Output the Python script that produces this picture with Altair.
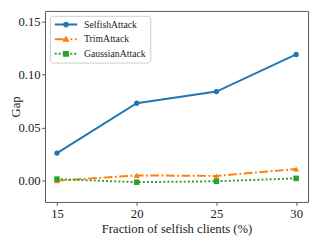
import altair as alt
import pandas as pd

fractions = [15, 20, 25, 30]
selfish_attack = [0.026, 0.073, 0.084, 0.119]
trim_attack = [0.0, 0.005, 0.0045, 0.011]
gaussian_attack = [0.0015, -0.0014, -0.0005, 0.0022]
series_names = ["SelfishAttack", "TrimAttack", "GaussianAttack"]
series_colors = ["#1f77b4", "#ff7f0e", "#2ca02c"]
x_ticks = [15, 20, 25, 30]
y_ticks = [0.0, 0.05, 0.10, 0.15]

rows = []
for name, vals in zip(series_names, [selfish_attack, trim_attack, gaussian_attack]):
    for f, v in zip(fractions, vals):
        rows.append({"fraction": f, "gap": v, "series": name})
df = pd.DataFrame(rows)

FONT = "Liberation Serif"
TXT = "#222222"

x_enc = alt.X(
    "fraction:Q",
    scale=alt.Scale(domain=[14.25, 30.75], nice=False, zero=False),
    axis=alt.Axis(values=x_ticks, format="d", title="Fraction of selfish clients (%)",
                  labelPadding=2, titlePadding=3),
)
y_enc = alt.Y(
    "gap:Q",
    scale=alt.Scale(domain=[-0.02, 0.16], nice=False, zero=False),
    axis=alt.Axis(values=y_ticks, format=".2f", title="Gap", labelPadding=1.5, titlePadding=-5),
)

# legend glyph paths (unit = 4px, line from -1 to 4.75, marker centred at 1.875)
def u(px):
    return round(-1 + px / 4.0, 3)

def seg(a, b, h=0.25):
    return f"M{u(a)},{-h}H{u(b)}V{h}H{u(a)}Z"

circle = "M1.125,0A0.75,0.75 0 1,1 2.625,0A0.75,0.75 0 1,1 1.125,0Z"
triangle = "M1.875,-0.95L2.8,0.65L0.95,0.65Z"
square = "M1.125,-0.75H2.625V0.75H1.125Z"
path_selfish = seg(0, 23) + circle
path_trim = seg(0, 9) + seg(11.5, 13.5) + seg(16, 18) + seg(20.5, 22.5) + triangle
path_gauss = "".join(seg(a, a + 2) for a in [0, 4, 8, 12, 16, 20]) + square
legend_paths = [path_selfish, path_trim, path_gauss]

styles = [
    ("SelfishAttack", "#1f77b4", None, "circle", 30),
    ("TrimAttack", "#ff7f0e", [9, 2.5, 2, 2.5], "triangle-up", 36),
    ("GaussianAttack", "#2ca02c", [2, 2.2], "square", 32),
]

layers = []
for name, color, dash, shape, size in styles:
    base = alt.Chart(df).transform_filter(alt.datum.series == name)
    line_kwargs = dict(color=color, strokeWidth=2, strokeCap="butt")
    if dash:
        line_kwargs["strokeDash"] = dash
    layers.append(base.mark_line(**line_kwargs).encode(x=x_enc, y=y_enc))
    layers.append(base.mark_point(filled=True, shape=shape, size=size, color=color, opacity=1)
                  .encode(x=x_enc, y=y_enc))

leg = alt.Legend(
    title=None, orient="top-left", offset=5, fillColor="white", strokeColor="#cccccc",
    cornerRadius=3, padding=4, symbolSize=64, symbolOpacity=1, symbolStrokeWidth=0,
    labelFont=FONT, labelFontSize=10, labelColor=TXT, labelOffset=21, rowPadding=5,
)
legend_layer = alt.Chart(df).mark_point(filled=True, opacity=0).encode(
    x=x_enc, y=y_enc,
    color=alt.Color("series:N", sort=series_names,
                    scale=alt.Scale(domain=series_names, range=series_colors), legend=leg),
    shape=alt.Shape("series:N", sort=series_names,
                    scale=alt.Scale(domain=series_names, range=legend_paths), legend=leg),
)
layers.append(legend_layer)

chart = (
    alt.layer(*layers)
    .properties(width=270, height=196,
                autosize=alt.AutoSizeParams(type="none"),
                padding={"left": 38, "top": 0, "right": 4, "bottom": 34})
    .configure_view(stroke="#555555", strokeWidth=1)
    .configure_axis(domain=False, grid=False, tickColor="#555555", tickSize=3.5, tickWidth=1,
                    labelFont=FONT, labelFontSize=13, labelColor=TXT,
                    titleFont=FONT, titleFontSize=13, titleFontWeight="normal", titleColor=TXT)
)
chart.save("out.html", embed_options={"renderer": "svg", "actions": False})
